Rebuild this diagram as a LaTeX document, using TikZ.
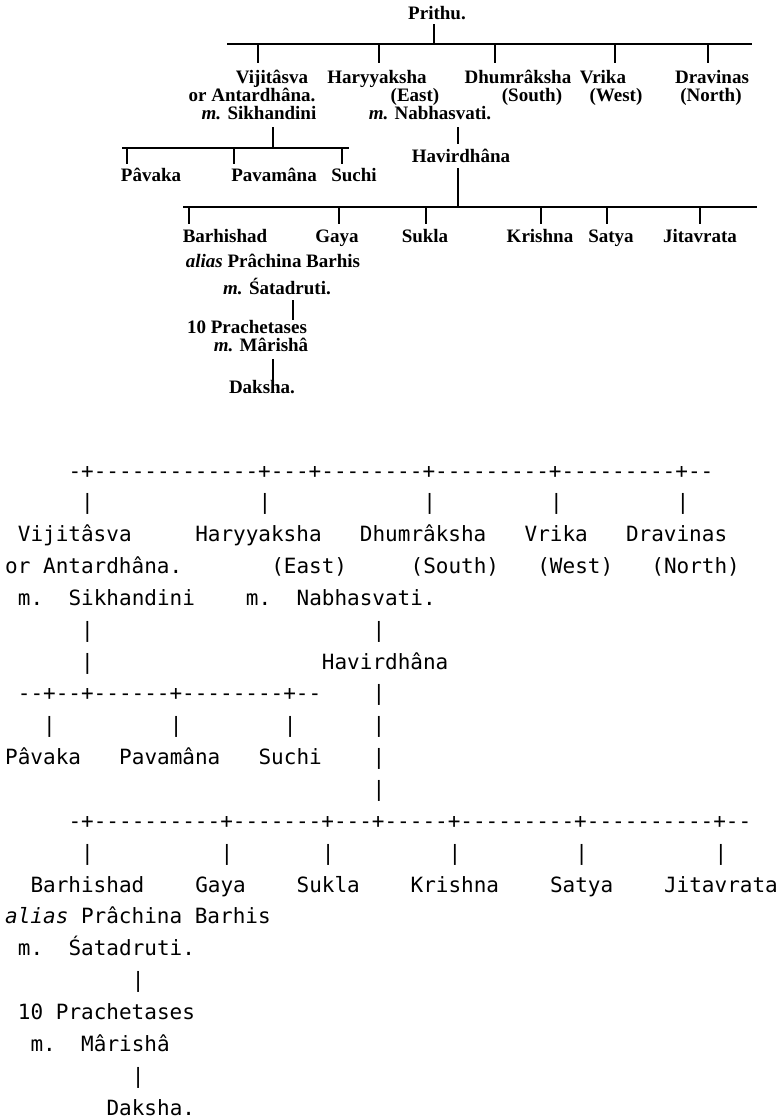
\documentclass[tikz,border=0pt]{standalone}
\usepackage{fontspec}
\setmonofont{DejaVu Sans Mono}
\newfontfamily\scanfamily{Liberation Serif}

\begin{document}
\begin{tikzpicture}[
    x=1pt, y=-1pt,
    person/.style={font=\scanfamily\bfseries\fontsize{19}{19}\selectfont, inner sep=0pt, anchor=base},
    rule/.style={line width=2pt},
    ascii/.style={font=\ttfamily\fontsize{21}{32}\selectfont, inner sep=0pt, anchor=base west}
]
    \useasboundingbox (0,0) rectangle (778,1120);

    % Prithu and his five sons
    \node[person] (prithu) at (437,19) {Prithu.};
    \coordinate (bar1w) at (227,44);
    \coordinate (bar1e) at (752,44);
    \coordinate (prithu-t) at (434,24);
    \draw[rule] (bar1w) -- (bar1e);
    \draw[rule] (prithu-t) -- (prithu-t |- bar1w);

    \node[person] (vijit) at (272,83) {Vijitâsva};
    \node[person] (hary) at (377,83) {Haryyaksha};
    \node[person] (dhum) at (518,83) {Dhumrâksha};
    \node[person] (vrika) at (603,83) {Vrika};
    \node[person] (drav) at (712,83) {Dravinas};
    \node[person] (antar) at (252,101) {or Antardhâna.};
    \node[person] (hary-dir) at (415,101) {(East)};
    \node[person] (dhum-dir) at (532,101) {(South)};
    \node[person] (vrika-dir) at (616,101) {(West)};
    \node[person] (drav-dir) at (711,101) {(North)};
    \node[person] (sikh) at (259,119) {\textit{m.} Sikhandini};
    \node[person] (nabh) at (430,119) {\textit{m.} Nabhasvati.};

    \foreach \n/\x in {vijit/258, hary/379, dhum/495, vrika/615, drav/708}
        \coordinate (\n-t) at (\x,63);
    \foreach \n in {vijit, hary, dhum, vrika, drav}
        \draw[rule] (\n-t |- bar1w) -- (\n-t);

    % sons of Vijitasva
    \coordinate (bar2w) at (122,148);
    \coordinate (bar2e) at (349,148);
    \coordinate (sikh-t) at (273,127);
    \draw[rule] (bar2w) -- (bar2e);
    \draw[rule] (sikh-t) -- (sikh-t |- bar2w);

    \node[person] (pavaka) at (151,181) {Pâvaka};
    \node[person] (pavamana) at (274,181) {Pavamâna};
    \node[person] (suchi) at (354,181) {Suchi};
    \foreach \n/\x in {pavaka/127, pavamana/234, suchi/342}
        \coordinate (\n-t) at (\x,164);
    \foreach \n in {pavaka, pavamana, suchi}
        \draw[rule] (\n-t |- bar2w) -- (\n-t);

    % Havirdhana and his sons
    \node[person] (havir) at (461,162) {Havirdhâna};
    \coordinate (nabh-t) at (458,127);
    \coordinate (havir-in) at (458,144);
    \coordinate (havir-t) at (458,168);
    \draw[rule] (nabh-t) -- (havir-in);

    \coordinate (bar3w) at (183,207);
    \coordinate (bar3e) at (757,207);
    \draw[rule] (bar3w) -- (bar3e);
    \draw[rule] (havir-t) -- (havir-t |- bar3w);

    \node[person] (barh) at (225,242) {Barhishad};
    \node[person] (gaya) at (337,242) {Gaya};
    \node[person] (sukla) at (425,242) {Sukla};
    \node[person] (krishna) at (540,242) {Krishna};
    \node[person] (satya) at (611,242) {Satya};
    \node[person] (jita) at (700,242) {Jitavrata};
    \foreach \n/\x in {barh/189, gaya/339, sukla/426, krishna/541, satya/607, jita/700}
        \coordinate (\n-t) at (\x,224);
    \foreach \n in {barh, gaya, sukla, krishna, satya, jita}
        \draw[rule] (\n-t |- bar3w) -- (\n-t);

    % line of Barhishad down to Daksha
    \node[person] (alias) at (273,267) {\textit{alias} Prâchina Barhis};
    \node[person] (satad) at (277,294) {\textit{m.} Śatadruti.};
    \node[person] (prach) at (247,333) {10 Prachetases};
    \node[person] (marisha) at (261,351) {\textit{m.} Mârishâ};
    \node[person] (daksha) at (262,393) {Daksha.};
    \coordinate (satad-t) at (293,300);
    \coordinate (marisha-t) at (273,359);
    \draw[rule] (satad-t) -- (satad-t |- prach.north);
    \draw[rule] (marisha-t) -- (marisha-t |- daksha.north);

    % the same tree as plain text
    \begin{scope}[shift={(5,478)}, x=12.67pt, y=-31.85pt]
        \node[ascii] (row0) at (5,0) {-+-------------+---+--------+---------+---------+--};
        \foreach \c in {6,20,33,43,53}
            \node[ascii] (pipe1-\c) at (\c,1) {|};
        \foreach \c/\t/\n in {1/Vijitâsva/vijit, 15/Haryyaksha/hary, 28/Dhumrâksha/dhum, 41/Vrika/vrika, 49/Dravinas/drav}
            \node[ascii] (a-\n) at (\c,2) {\t};
        \foreach \c/\t/\n in {0/or Antardhâna./antar, 21/(East)/east, 32/(South)/south, 42/(West)/west, 51/(North)/north}
            \node[ascii] (a-\n) at (\c,3) {\t};
        \foreach \c/\t/\n in {1/m./m1, 5/Sikhandini/sikh, 19/m./m2, 23/Nabhasvati./nabh}
            \node[ascii] (a-\n) at (\c,4) {\t};
        \foreach \c/\r in {6/5, 29/5, 6/6, 29/7, 3/8, 13/8, 22/8, 29/8, 29/9, 29/10}
            \node[ascii] (pipe\r-\c) at (\c,\r) {|};
        \node[ascii] (a-havir) at (25,6) {Havirdhâna};
        \node[ascii] (row7) at (1,7) {--+--+------+--------+--};
        \foreach \c/\t/\n in {0/Pâvaka/pavaka, 9/Pavamâna/pavamana, 20/Suchi/suchi}
            \node[ascii] (a-\n) at (\c,9) {\t};
        \node[ascii] (row11) at (5,11) {-+----------+-------+---+-----+---------+----------+--};
        \foreach \c in {6,17,25,35,45,56}
            \node[ascii] (pipe12-\c) at (\c,12) {|};
        \foreach \c/\t/\n in {2/Barhishad/barh, 15/Gaya/gaya, 23/Sukla/sukla, 32/Krishna/krishna, 43/Satya/satya, 52/Jitavrata/jita}
            \node[ascii] (a-\n) at (\c,13) {\t};
        \node[ascii] (a-alias) at (0,14) {\textit{alias} Prâchina Barhis};
        \node[ascii] (a-m3) at (1,15) {m.};
        \node[ascii] (a-satad) at (5,15) {Śatadruti.};
        \node[ascii] (pipe16) at (10,16) {|};
        \node[ascii] (a-ten) at (1,17) {10};
        \node[ascii] (a-prach) at (4,17) {Prachetases};
        \node[ascii] (a-m4) at (2,18) {m.};
        \node[ascii] (a-marisha) at (6,18) {Mârishâ};
        \node[ascii] (pipe19) at (10,19) {|};
        \node[ascii] (a-daksha) at (8,20) {Daksha.};
    \end{scope}
\end{tikzpicture}
\end{document}
